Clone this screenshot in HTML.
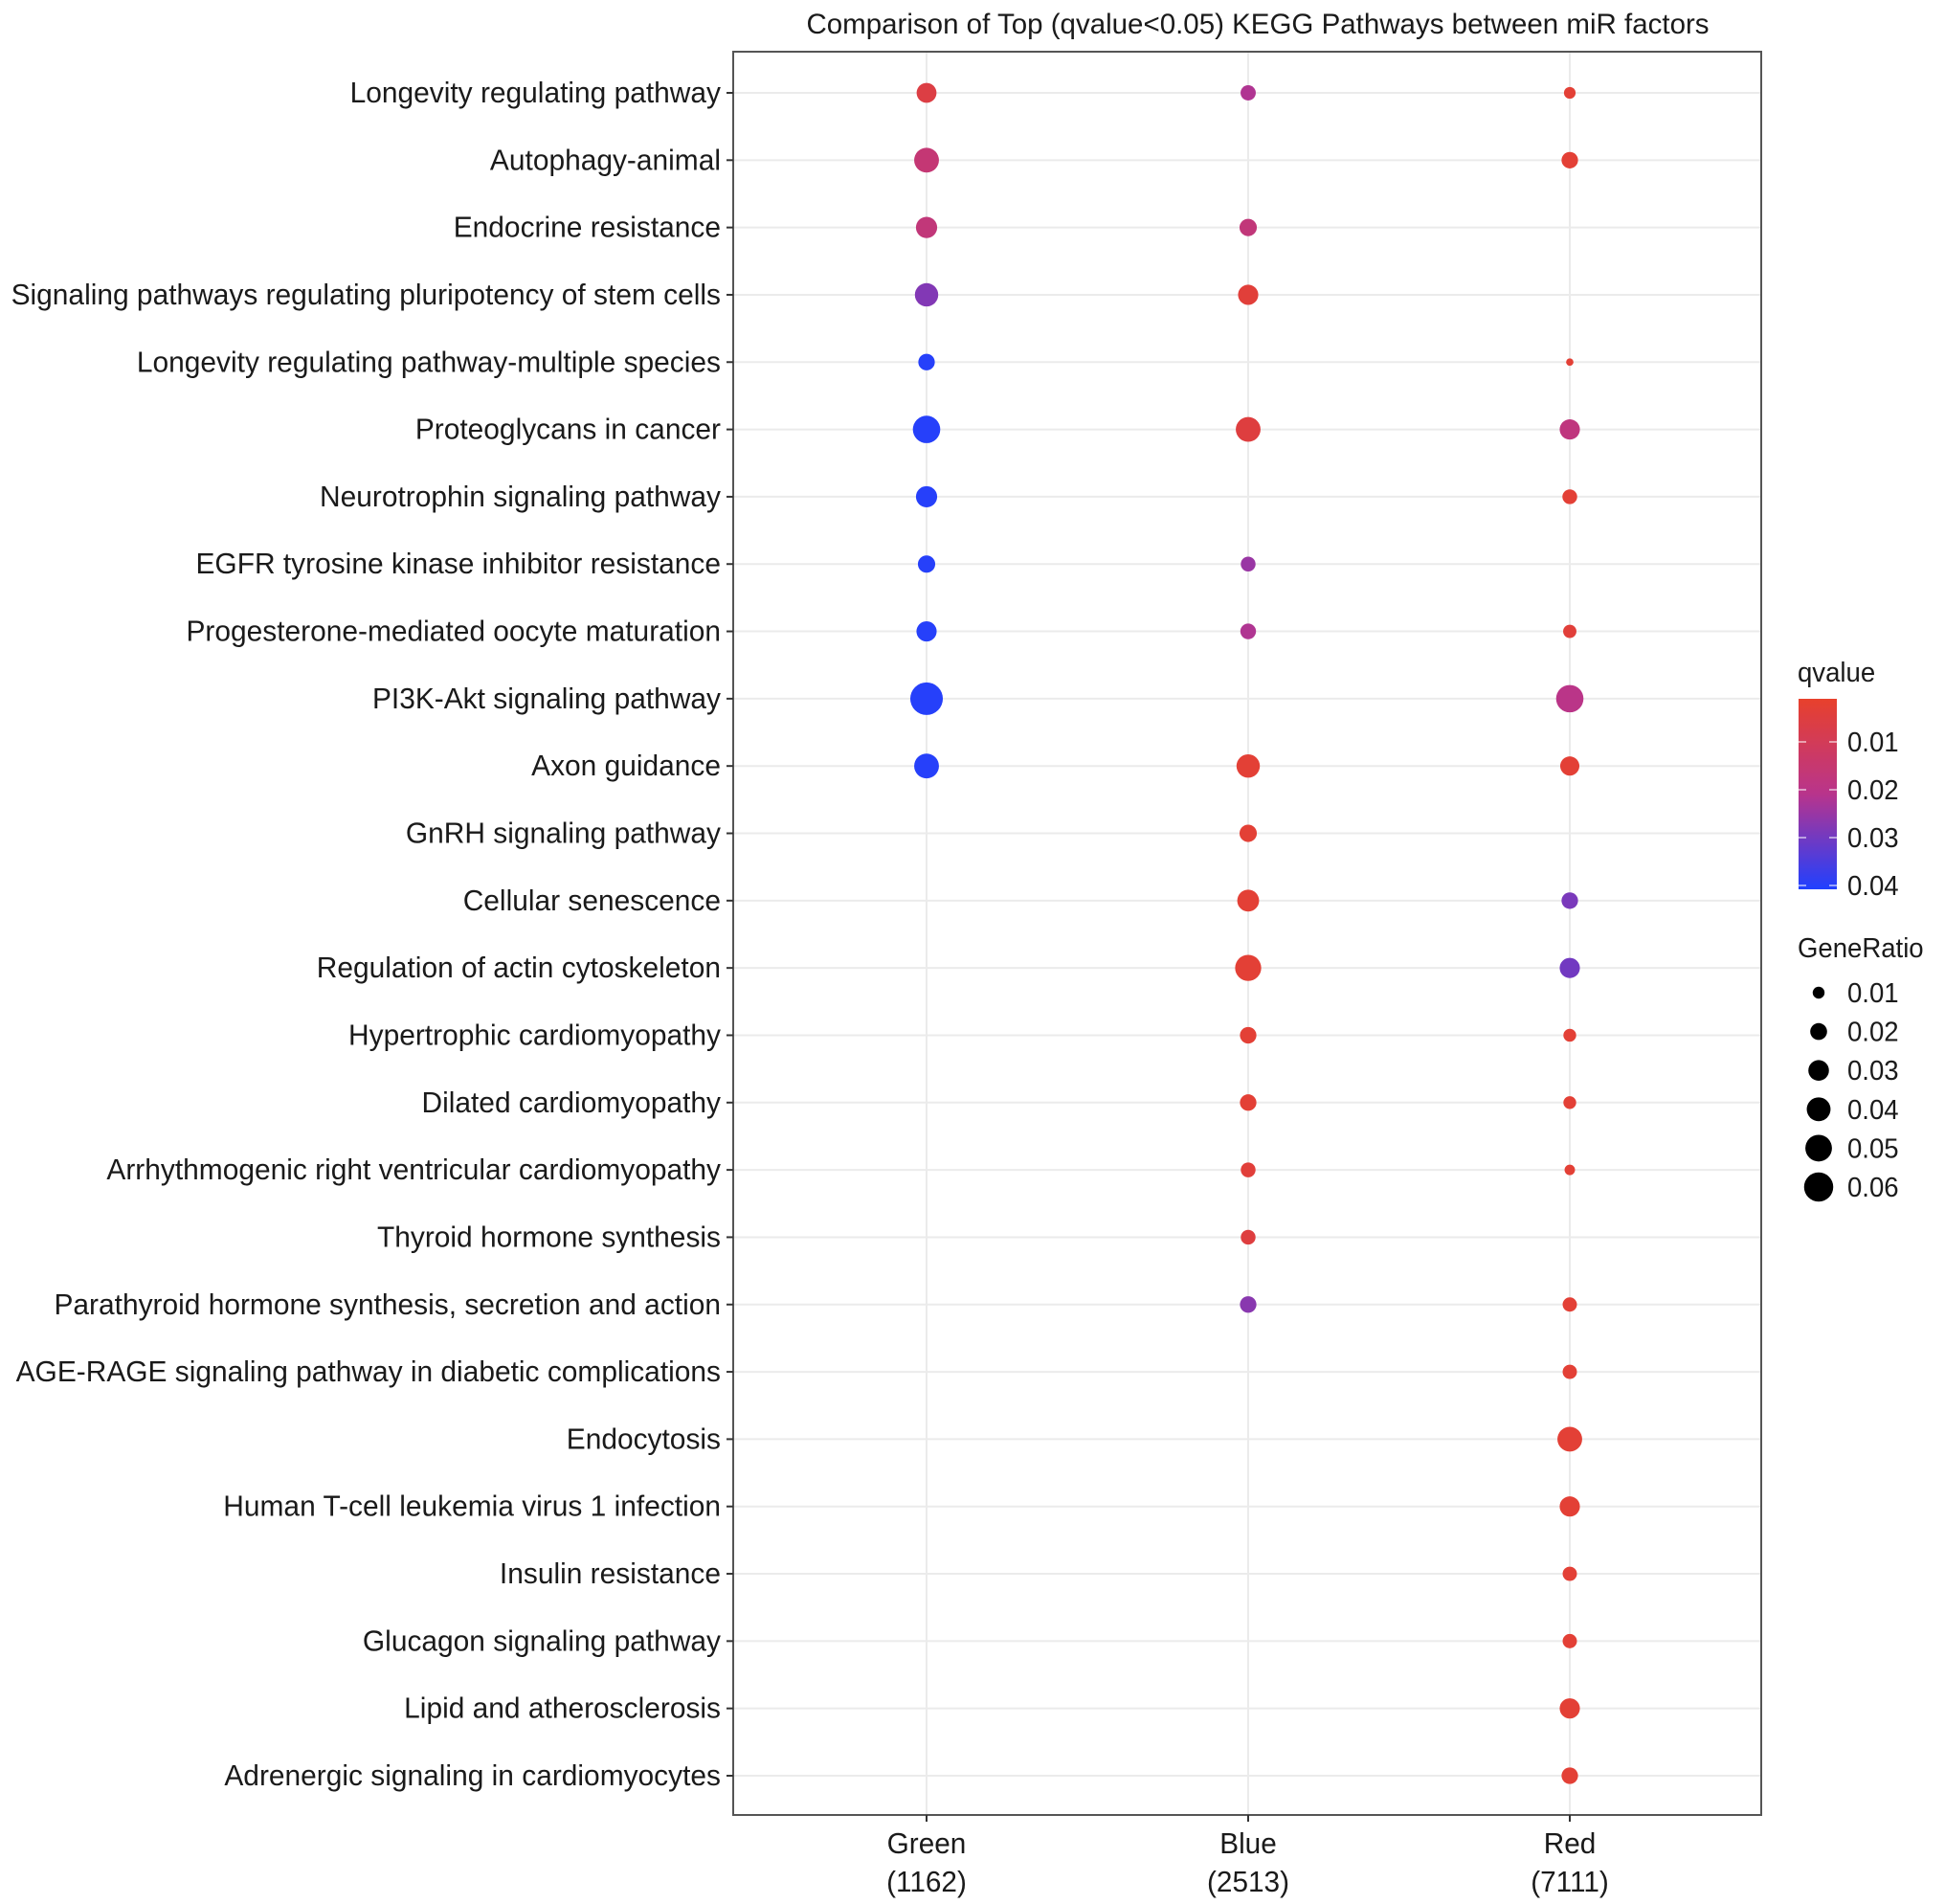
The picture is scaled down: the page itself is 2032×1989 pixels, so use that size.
<!DOCTYPE html>
<html><head><meta charset="utf-8"><style>
html,body{margin:0;padding:0;background:#fff;}
svg{display:block;font-family:"Liberation Sans",Arial,sans-serif;}
</style></head><body>
<svg id="chart" width="2032" height="1989" viewBox="0 0 2032 1989" xmlns="http://www.w3.org/2000/svg">
<rect width="2032" height="1989" fill="#fff"/>
<g id="plot"></g>
</svg>
<script>
const pathways = ["Longevity regulating pathway","Autophagy-animal","Endocrine resistance","Signaling pathways regulating pluripotency of stem cells","Longevity regulating pathway-multiple species","Proteoglycans in cancer","Neurotrophin signaling pathway","EGFR tyrosine kinase inhibitor resistance","Progesterone-mediated oocyte maturation","PI3K-Akt signaling pathway","Axon guidance","GnRH signaling pathway","Cellular senescence","Regulation of actin cytoskeleton","Hypertrophic cardiomyopathy","Dilated cardiomyopathy","Arrhythmogenic right ventricular cardiomyopathy","Thyroid hormone synthesis","Parathyroid hormone synthesis, secretion and action","AGE-RAGE signaling pathway in diabetic complications","Endocytosis","Human T-cell leukemia virus 1 infection","Insulin resistance","Glucagon signaling pathway","Lipid and atherosclerosis","Adrenergic signaling in cardiomyocytes"];
const groups = ["Green","Blue","Red"];
const groupCounts = ["(1162)","(2513)","(7111)"];
// null = no point
const greenRatio = [0.029,0.045,0.033,0.040,0.020,0.055,0.033,0.022,0.030,0.078,0.045,null,null,null,null,null,null,null,null,null,null,null,null,null,null,null];
const greenQ     = [0.006,0.016,0.017,0.028,0.040,0.040,0.040,0.040,0.040,0.040,0.040,null,null,null,null,null,null,null,null,null,null,null,null,null,null,null];
const blueRatio  = [0.017,null,0.022,0.030,null,0.045,null,0.016,0.018,null,0.040,0.022,0.035,0.050,0.020,0.020,0.016,0.016,0.020,null,null,null,null,null,null,null];
const blueQ      = [0.022,null,0.017,0.004,null,0.005,null,0.025,0.022,null,0.003,0.003,0.003,0.003,0.003,0.003,0.004,0.005,0.027,null,null,null,null,null,null,null];
const redRatio   = [0.010,0.020,null,null,0.004,0.030,0.016,null,0.013,0.055,0.027,null,0.020,0.030,0.012,0.012,0.008,null,0.015,0.015,0.045,0.030,0.015,0.015,0.030,0.020];
const redQ       = [0.003,0.003,null,null,0.003,0.018,0.003,null,0.004,0.020,0.003,null,0.029,0.030,0.003,0.003,0.003,null,0.003,0.003,0.003,0.003,0.003,0.003,0.003,0.003];
const qTicks = [0.01,0.02,0.03,0.04];
const sizeTicks = [0.01,0.02,0.03,0.04,0.05,0.06];

const NS="http://www.w3.org/2000/svg";
const g=document.getElementById('plot');
function el(t,a,p){const e=document.createElementNS(NS,t);for(const k in a)e.setAttribute(k,a[k]);(p||g).appendChild(e);return e;}
const L=766,R=1840,T=54,B=1896;
const yTop=97,yBot=1855;
const yScale=i=>yTop+i*(yBot-yTop)/(pathways.length-1);
const xScale=j=>968+j*336;
const rScale=v=>61*Math.sqrt(v);
const qMin=0.001,qMax=0.0408;
function lerp(a,b,t){return a.map((x,i)=>Math.round(x+(b[i]-x)*t));}
function qColor(q){let t=(q-qMin)/(qMax-qMin);t=Math.max(0,Math.min(1,t));
 const c0=[232,65,44],c1=[184,52,140],c2=[32,64,255];
 const c=t<0.5?lerp(c0,c1,t/0.5):lerp(c1,c2,(t-0.5)/0.5);return `rgb(${c[0]},${c[1]},${c[2]})`;}
const qLegY=q=>725+q*5000;

// title
let t=el('text',{x:1314,y:35,'text-anchor':'middle','font-size':29.5,fill:'#1a1a1a'});
t.textContent="Comparison of Top (qvalue<0.05) KEGG Pathways between miR factors";



// grid
pathways.forEach((p,i)=>{const y=yScale(i);
 const ln=el('line',{x1:L,x2:R,y1:y,y2:y,stroke:'#ebebeb','stroke-width':2});
 
 
});
groups.forEach((gname,j)=>{const x=xScale(j);
 const ln=el('line',{x1:x,x2:x,y1:T,y2:B,stroke:'#ebebeb','stroke-width':2});
 
 
});
const frame=el('rect',{x:L,y:T,width:R-L,height:B-T,fill:'none',stroke:'#555','stroke-width':2});



// y labels
pathways.forEach((p,i)=>{const y=yScale(i);
 const tk=el('line',{x1:L-7,x2:L,y1:y,y2:y,stroke:'#333','stroke-width':2});
 
 
 const tx=el('text',{transform:`translate(${L-13},${y+10}) scale(0.965,1)`,'text-anchor':'end','font-size':31,fill:'#1a1a1a'});
 tx.textContent=p;
 
 
});
// x labels
groups.forEach((gname,j)=>{const x=xScale(j);
 const tk=el('line',{x1:x,x2:x,y1:B,y2:B+7,stroke:'#333','stroke-width':2});
 
 
 const a=el('text',{transform:`translate(${x},${B+40}) scale(0.96,1)`,'text-anchor':'middle','font-size':31,fill:'#1a1a1a'});
 a.textContent=gname;
 
 
 const b=el('text',{transform:`translate(${x},${B+80}) scale(0.96,1)`,'text-anchor':'middle','font-size':31,fill:'#1a1a1a'});
 b.textContent=groupCounts[j];
 
 
});

// points
const ratios=[greenRatio,blueRatio,redRatio], qs=[greenQ,blueQ,redQ];
ratios.forEach((arr,j)=>{arr.forEach((v,i)=>{if(v==null)return;
 const c=el('circle',{cx:xScale(j),cy:yScale(i),r:rScale(v),fill:qColor(qs[j][i])});
 
 
});});

// legend qvalue
const lt=el('text',{transform:'translate(1878,712) scale(0.95,1)','font-size':29,fill:'#1a1a1a'});
lt.textContent='qvalue';


const defs=el('defs',{});
const grad=el('linearGradient',{id:'qg',x1:0,y1:0,x2:0,y2:1},defs);
for(let k=0;k<=10;k++){const yy=730+k*19.9;el('stop',{offset:k/10,'stop-color':qColor((yy-725)/5000)},grad);}
const cb=el('rect',{x:1879,y:730,width:40,height:199,fill:'url(#qg)'});


qTicks.forEach(q=>{const y=qLegY(q);
 el('line',{x1:1879,x2:1887,y1:y,y2:y,stroke:'#fff','stroke-width':1.5,opacity:0.7});
 el('line',{x1:1911,x2:1919,y1:y,y2:y,stroke:'#fff','stroke-width':1.5,opacity:0.7});
 const tx=el('text',{transform:`translate(1930,${y+10}) scale(0.95,1)`,'font-size':29,fill:'#1a1a1a'});
 tx.textContent=q.toFixed(2);
 
 
});
// legend size
const st=el('text',{transform:'translate(1878,1000) scale(0.95,1)','font-size':29,fill:'#1a1a1a'});
st.textContent='GeneRatio';


sizeTicks.forEach((v,k)=>{const y=1037+k*40.6;
 const c=el('circle',{cx:1900,cy:y,r:rScale(v)*1.02,fill:'#000'});
 
 
 const tx=el('text',{transform:`translate(1930,${y+10}) scale(0.95,1)`,'font-size':29,fill:'#1a1a1a'});
 tx.textContent=v.toFixed(2);
 
 
});
</script>
</body></html>
